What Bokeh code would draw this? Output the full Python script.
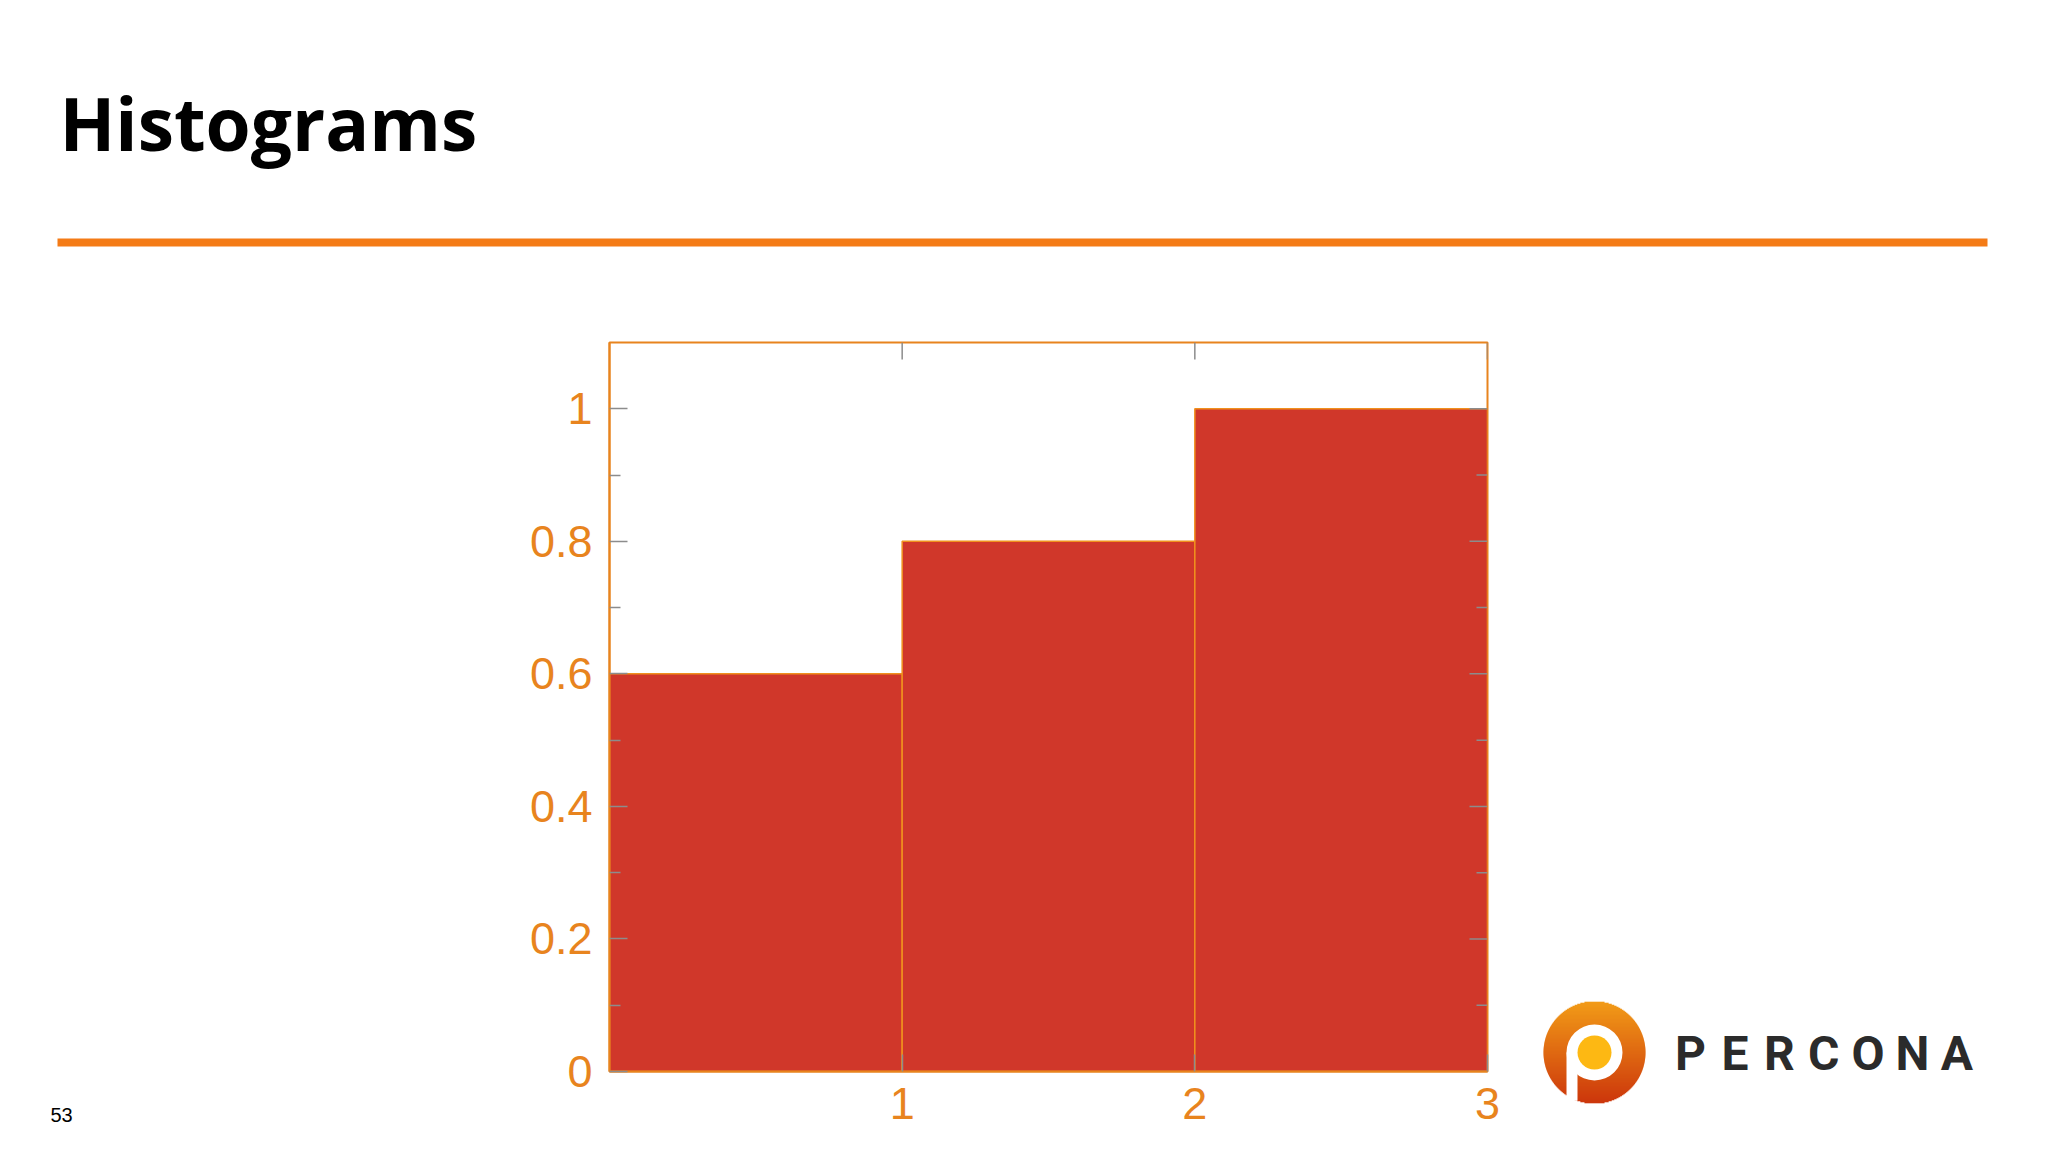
import math
from bokeh.plotting import figure
from bokeh.layouts import column, row
from bokeh.models import Range1d, FixedTicker, ColumnDataSource
from bokeh.core.properties import value
from bokeh.embed import file_html
from bokeh.resources import INLINE

# ---------------- data ----------------
bin_edges = [0, 1, 2, 3]
counts = [0.6, 0.8, 1.0]
x_ticks = [1, 2, 3]
x_tick_labels = ["1", "2", "3"]
y_ticks = [0, 0.2, 0.4, 0.6, 0.8, 1.0]
y_tick_labels = ["0", "0.2", "0.4", "0.6", "0.8", "1"]
y_minor_ticks = [0.1, 0.3, 0.5, 0.7, 0.9]
slide_title = "Histograms"
page_number = "53"
logo_letters = list("PERCONA")

ORANGE = "#E8841E"
BAR_RED = "#D0372A"
TICK_GRAY = "#8C8C8C"
RULE_ORANGE = "#F47B16"

W = 2040
X_MAX, Y_MAX = 3, 1.1


def blank(width, height):
    f = figure(width=width, height=height, x_range=Range1d(0, width), y_range=Range1d(height, 0),
               x_axis_location=None, y_axis_location=None, toolbar_location=None,
               output_backend="svg", min_border=0, frame_align=False)
    f.grid.visible = False
    f.outline_line_color = None
    return f


# ---------------- header (title + rule) ----------------
hdr_h = 328
hdr = blank(W, hdr_h)
hdr.text(x=[59], y=[122], text=[slide_title], text_font=value("Open Sans"), text_font_style="bold",
         text_font_size="73px", text_color="#000000", text_baseline="alphabetic", text_align="left")
hdr.segment(x0=[57], y0=[242], x1=[1987], y1=[242], line_color=RULE_ORANGE, line_width=8)

# ---------------- left column (page number) ----------------
body_h = 807
left_w = 509
left = blank(left_w, body_h)
left.text(x=[50], y=[786], text=[page_number], text_font=value("Liberation Sans"),
          text_font_size="20px", text_color="#000000", text_baseline="alphabetic")

# ---------------- chart ----------------
chart_w = 1008
p = figure(width=chart_w, height=body_h, x_range=Range1d(0, X_MAX), y_range=Range1d(0, Y_MAX),
           toolbar_location=None, output_backend="svg", frame_align=False,
           min_border_left=100, min_border_right=30, min_border_top=14, min_border_bottom=64)
p.grid.visible = False
p.outline_line_color = ORANGE
p.outline_line_width = 2
p.background_fill_color = "#FFFFFF"
p.border_fill_color = "#FFFFFF"

src = ColumnDataSource(dict(left=bin_edges[:-1], right=bin_edges[1:], top=counts,
                            bottom=[0] * len(counts)))
p.quad(left="left", right="right", top="top", bottom="bottom", source=src,
       fill_color=BAR_RED, line_color="#F0901E", line_width=1.5)

p.xaxis.ticker = FixedTicker(ticks=x_ticks)
p.xaxis.major_label_overrides = {t: l for t, l in zip(x_ticks, x_tick_labels)}
p.yaxis.ticker = FixedTicker(ticks=y_ticks, minor_ticks=y_minor_ticks)
p.yaxis.major_label_overrides = {t: l for t, l in zip(y_ticks, y_tick_labels)}

for ax in p.axis:
    ax.axis_line_color = ORANGE
    ax.axis_line_width = 2
    ax.major_tick_in = 18
    ax.major_tick_out = 0
    ax.minor_tick_in = 11
    ax.minor_tick_out = 0
    ax.major_tick_line_color = TICK_GRAY
    ax.minor_tick_line_color = TICK_GRAY
    ax.major_tick_line_width = 1.5
    ax.minor_tick_line_width = 1.5
    ax.major_label_text_color = ORANGE
    ax.major_label_text_font = "Liberation Sans"
    ax.major_label_text_font_size = "45px"

p.xaxis.major_tick_in = 17
p.xaxis.major_label_standoff = 16
p.yaxis.major_label_standoff = 17

# mirrored ticks on the top and right frame edges
p.ray(x=x_ticks, y=[Y_MAX] * len(x_ticks), length=17, length_units="screen",
      angle=-math.pi / 2, line_color=TICK_GRAY, line_width=1.5)
p.ray(x=[X_MAX] * len(y_ticks), y=y_ticks, length=18, length_units="screen",
      angle=math.pi, line_color=TICK_GRAY, line_width=1.5)
p.ray(x=[X_MAX] * len(y_minor_ticks), y=y_minor_ticks, length=11, length_units="screen",
      angle=math.pi, line_color=TICK_GRAY, line_width=1.5)

# ---------------- logo ----------------
logo_w = W - left_w - chart_w
logo = blank(logo_w, body_h)

cx, cy, R = 77, 724, 51
top_rgb = (0xF2, 0x9C, 0x18)
bot_rgb = (0xCC, 0x36, 0x0C)
xs0, xs1, ys, cols = [], [], [], []
for i in range(0, 2 * R + 1):
    dy = -R + i
    half = max(R * R - dy * dy, 0) ** 0.5
    t = i / (2 * R)
    rgb = tuple(int(round(a + (b - a) * t)) for a, b in zip(top_rgb, bot_rgb))
    xs0.append(cx - half)
    xs1.append(cx + half)
    ys.append(cy + dy)
    cols.append("#%02X%02X%02X" % rgb)
logo.segment(x0=xs0, y0=ys, x1=xs1, y1=ys, line_color=cols, line_width=1.6)
logo.circle(x=[cx], y=[cy], radius=28, fill_color="#FFFFFF", line_color=None)
logo.quad(left=[cx - 28], right=[cx - 17], top=[cy], bottom=[cy + 48],
          fill_color="#FFFFFF", line_color=None)
logo.circle(x=[cx], y=[cy], radius=17, fill_color="#FDB813", line_color=None)

letter_x = [173 + 44.4 * i for i in range(len(logo_letters))]
logo.text(x=letter_x, y=[725] * len(logo_letters), text=logo_letters,
          text_font=value("Roboto"), text_font_style="bold", text_font_size="48px",
          text_color="#2B2B2B", text_align="center", text_baseline="alphabetic")

layout = column(hdr, row(left, p, logo))

open("out.html", "w").write(file_html(layout, INLINE))
